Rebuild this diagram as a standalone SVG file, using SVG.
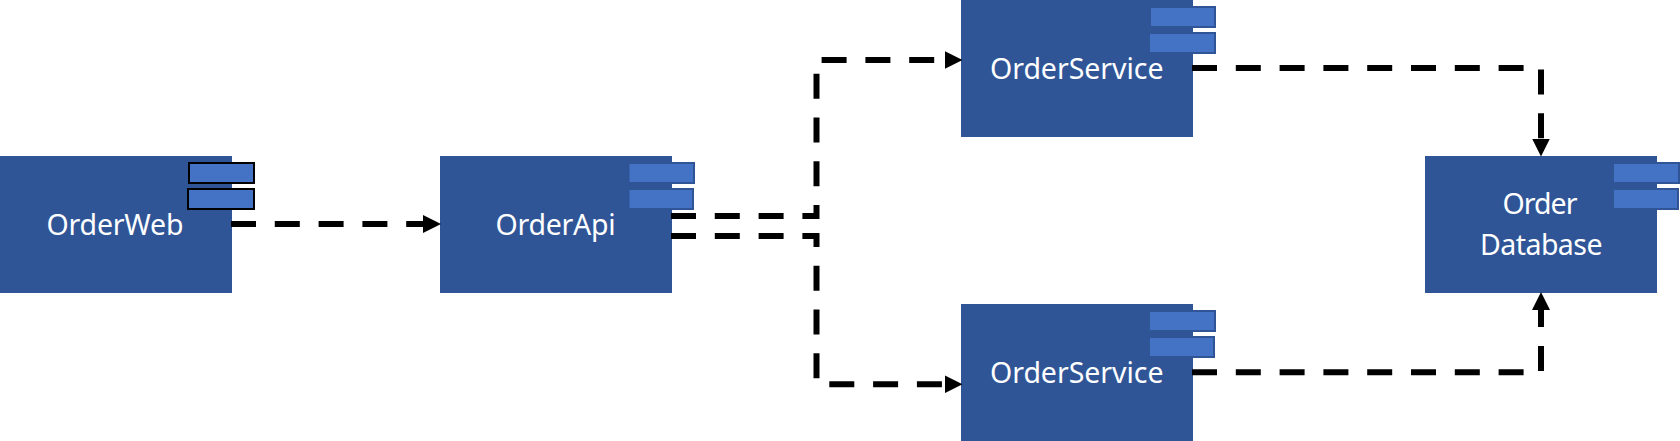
<svg xmlns="http://www.w3.org/2000/svg" width="1680" height="441" viewBox="0 0 1680 441">
<style>
.box{fill:#2F5597}
.port{fill:#4472C4;stroke:#2F5597;stroke-width:2}
.port-k{fill:#4472C4;stroke:#000;stroke-width:2}
.label{fill:#fff;font-family:"Noto Sans","Open Sans",sans-serif;font-size:28.5px}
.conn{fill:none;stroke:#000;stroke-width:6;stroke-dasharray:25 18.8;marker-end:url(#head)}
</style>
<defs>
<marker id="head" markerUnits="userSpaceOnUse" markerWidth="18" markerHeight="18" refX="0" refY="9" orient="auto" viewBox="0 0 18 18"><path d="M0 0L18 9L0 18Z" fill="#000"/></marker>
</defs>
<rect width="1680" height="441" fill="#fff"/>
<g id="node-orderweb">
<rect class="box" x="0" y="156" width="232" height="137"/>
<rect class="port-k" x="189" y="163" width="65" height="20"/>
<rect class="port-k" x="188" y="189" width="66" height="20"/>
<text class="label" x="46.5" y="235" textLength="137">OrderWeb</text>
</g>
<g id="node-orderapi">
<rect class="box" x="440" y="156" width="232" height="137"/>
<rect class="port" x="628.500" y="163" width="65.500" height="20"/>
<rect class="port" x="628.500" y="189" width="64.500" height="20"/>
<text class="label" x="495.5" y="235" textLength="120">OrderApi</text>
</g>
<g id="node-orderservice-1">
<rect class="box" x="961" y="0" width="232" height="137"/>
<rect class="port" x="1150" y="7" width="65" height="20"/>
<rect class="port" x="1149" y="33" width="66" height="20"/>
<text class="label" x="990" y="78.500" textLength="173.500">OrderService</text>
</g>
<g id="node-orderservice-2">
<rect class="box" x="961" y="304" width="232" height="137"/>
<rect class="port" x="1149" y="311" width="66" height="20"/>
<rect class="port" x="1149" y="337" width="65" height="20"/>
<text class="label" x="990" y="382.500" textLength="173.500">OrderService</text>
</g>
<g id="node-order-database">
<rect class="box" x="1425" y="156" width="232" height="137"/>
<rect class="port" x="1613" y="163" width="66" height="20"/>
<rect class="port" x="1613" y="189" width="65" height="20"/>
<text class="label" x="1502.500" y="214" textLength="75">Order</text>
<text class="label" x="1480" y="255" textLength="122.500">Database</text>
</g>
<g id="connectors">
<path class="conn" d="M231 224H423"/>
<path class="conn" d="M671 216H816.500V60H944.500"/>
<path class="conn" d="M671 236H816.500V384.300H944.500"/>
<path class="conn" d="M1192 68H1541V138.500"/>
<path class="conn" d="M1192 372.300H1541V310"/>
</g>
</svg>
